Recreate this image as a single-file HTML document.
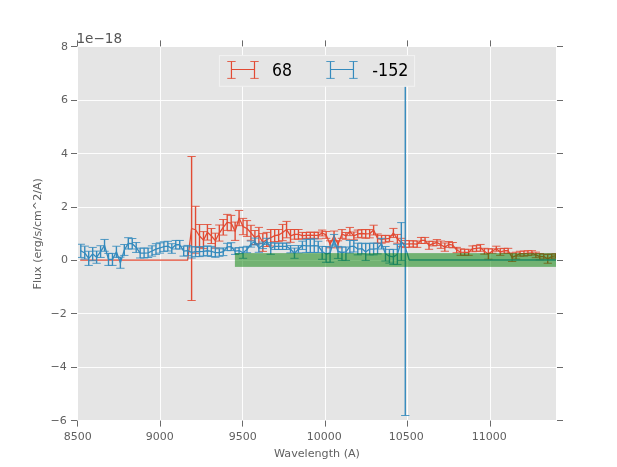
<!DOCTYPE html>
<html lang="en">
<head>
<meta charset="utf-8">
<title>Flux vs Wavelength</title>
<style>
html,body{margin:0;padding:0;background:#ffffff;}
body{width:617px;height:467px;overflow:hidden;}
svg{display:block;}
</style>
</head>
<body>
<svg width="617" height="467" viewBox="0 0 617 467">
<defs><clipPath id="ax"><rect x="78.00" y="47.00" width="478.00" height="373.00"/></clipPath></defs>
<rect x="0" y="0" width="617" height="467" fill="#ffffff"/>
<rect x="78.00" y="47.00" width="478.00" height="373.00" fill="#E5E5E5"/>
<path fill="none" stroke="#ffffff" stroke-opacity="0.92" stroke-width="1" d="M160.50 47.00V420.00M242.50 47.00V420.00M325.50 47.00V420.00M407.50 47.00V420.00M490.50 47.00V420.00M78.00 100.50H556.00M78.00 153.50H556.00M78.00 207.50H556.00M78.00 260.50H556.00M78.00 313.50H556.00M78.00 367.50H556.00"/>
<path fill="none" stroke="#555555" stroke-opacity="0.88" stroke-width="1" d="M77.50 420.60v6.00M77.50 46.40v-6.00M160.50 420.60v6.00M160.50 46.40v-6.00M242.50 420.60v6.00M242.50 46.40v-6.00M325.50 420.60v6.00M325.50 46.40v-6.00M407.50 420.60v6.00M407.50 46.40v-6.00M490.50 420.60v6.00M490.50 46.40v-6.00M77.00 46.50h-6.00M557.00 46.50h6.00M77.00 100.50h-6.00M557.00 100.50h6.00M77.00 153.50h-6.00M557.00 153.50h6.00M77.00 207.50h-6.00M557.00 207.50h6.00M77.00 260.50h-6.00M557.00 260.50h6.00M77.00 313.50h-6.00M557.00 313.50h6.00M77.00 367.50h-6.00M557.00 367.50h6.00M77.00 420.50h-6.00M557.00 420.50h6.00"/>
<g font-family='"DejaVu Sans", "Liberation Sans", sans-serif' font-size="11.00" fill="#555555" fill-opacity="0.94">
<text x="77.70" y="440.00" text-anchor="middle">8500</text>
<text x="159.70" y="440.00" text-anchor="middle">9000</text>
<text x="242.70" y="440.00" text-anchor="middle">9500</text>
<text x="324.30" y="440.00" text-anchor="middle">10000</text>
<text x="406.30" y="440.00" text-anchor="middle">10500</text>
<text x="489.30" y="440.00" text-anchor="middle">11000</text>
<text x="68.10" y="50.00" text-anchor="end">8</text>
<text x="68.10" y="103.30" text-anchor="end">6</text>
<text x="68.10" y="157.00" text-anchor="end">4</text>
<text x="68.10" y="210.10" text-anchor="end">2</text>
<text x="68.10" y="263.10" text-anchor="end">0</text>
<text x="66.70" y="317.10" text-anchor="end">−2</text>
<text x="66.70" y="370.00" text-anchor="end">−4</text>
<text x="66.70" y="424.10" text-anchor="end">−6</text>
<text x="317.00" y="456.90" font-size="11.15" text-anchor="middle">Wavelength (A)</text>
<text transform="translate(40.90 233.80) rotate(-90)" font-size="11.1" text-anchor="middle">Flux (erg/s/cm^2/A)</text>
</g>
<text x="76.40" y="42.90" font-family='"DejaVu Sans", "Liberation Sans", sans-serif' font-size="13.6" fill="#555555">1e−18</text>
<g clip-path="url(#ax)">
<polyline fill="none" stroke="#E24A33" stroke-width="1.30" stroke-linejoin="round" stroke-linecap="square" points="80.80,260.20 84.76,260.20 88.71,260.20 92.67,260.20 96.63,260.20 100.58,260.20 104.54,260.20 108.50,260.20 112.46,260.20 116.41,260.20 120.37,260.20 124.33,260.20 128.28,260.20 132.24,260.20 136.20,260.20 140.16,260.20 144.11,260.20 148.07,260.20 152.03,260.20 155.98,260.20 159.94,260.20 163.90,260.20 167.85,260.20 171.81,260.20 175.77,260.20 179.72,260.20 183.68,260.20 187.64,260.20 191.60,228.50 195.55,229.75 199.51,236.00 203.47,240.10 207.42,232.30 211.38,236.00 215.34,240.70 219.30,233.05 223.25,227.30 227.21,222.40 231.17,223.10 235.12,231.25 239.08,218.07 243.04,226.55 246.99,228.50 250.95,232.80 254.91,237.50 258.87,235.50 262.82,242.50 266.78,239.45 270.74,237.75 274.69,235.60 278.65,235.00 282.61,232.57 286.56,229.60 290.52,235.90 294.48,234.35 298.44,234.35 302.39,235.60 306.35,235.42 310.31,235.18 314.26,235.42 318.22,235.42 322.18,232.99 326.13,234.94 330.09,244.30 334.05,235.91 338.00,244.30 341.96,233.96 345.92,235.91 349.88,231.53 353.83,235.91 357.79,233.96 361.75,233.48 365.70,233.96 369.66,233.72 373.62,230.07 377.57,238.58 381.53,239.31 385.49,238.83 389.45,238.44 393.40,232.99 397.36,238.83 401.32,242.47 405.27,244.03 409.23,243.93 413.19,243.93 417.14,244.21 421.10,240.46 425.06,240.46 429.02,245.32 432.97,243.62 436.93,242.50 440.89,244.69 444.84,247.12 448.80,244.45 452.76,245.18 456.71,250.04 460.67,252.08 464.63,252.33 468.59,252.33 472.54,248.83 476.50,248.34 480.46,247.85 484.41,251.26 488.37,254.03 492.33,251.01 496.28,248.73 500.24,251.99 504.20,250.77 508.16,250.77 512.11,257.33 516.07,255.63 520.03,253.69 523.98,253.59 527.94,253.12 531.90,252.87 535.86,254.91 539.81,256.68 543.77,256.53 547.73,258.86 551.68,256.43 555.64,255.85 559.60,255.85"/>
<path fill="none" stroke="#E24A33" stroke-width="1.38" d="M191.60 156.50V300.50M195.55 206.30V253.20M199.51 224.50V247.50M203.47 231.60V248.60M207.42 224.50V240.10M211.38 228.50V243.50M215.34 233.20V248.20M219.30 225.00V241.10M223.25 219.50V235.10M227.21 214.40V230.40M231.17 215.40V230.80M235.12 222.10V240.40M239.08 210.45V225.70M243.04 218.40V234.70M246.99 220.60V236.40M250.95 225.30V240.30M254.91 230.50V244.50M258.87 227.40V243.60M262.82 233.60V251.40M266.78 232.40V246.50M270.74 229.50V246.00M274.69 229.50V241.70M278.65 229.50V241.70M282.61 224.45V240.70M286.56 221.40V237.80M290.52 229.50V242.30M294.48 229.50V239.20M298.44 229.50V239.20M302.39 232.40V238.80M306.35 232.50V238.34M310.31 232.02V238.34M314.26 232.50V238.34M318.22 232.02V238.83M322.18 230.07V235.91M326.13 231.53V238.34M330.09 240.80V247.80M334.05 231.05V240.77M338.00 240.80V247.80M341.96 229.59V238.34M345.92 232.50V239.31M349.88 227.45V235.62M353.83 232.02V239.80M357.79 230.07V237.85M361.75 229.59V237.37M365.70 229.59V238.34M369.66 229.59V237.85M373.62 225.21V234.94M377.57 233.96V243.20M381.53 235.42V243.20M385.49 235.42V242.23M389.45 235.42V241.45M393.40 228.42V237.56M397.36 234.45V243.20M401.32 238.34V246.61M405.27 240.48V247.58M409.23 240.77V247.09M413.19 240.77V247.09M417.14 241.05V247.37M421.10 237.45V243.48M425.06 237.45V243.48M429.02 241.34V249.31M432.97 241.34V245.91M436.93 239.59V245.42M440.89 241.05V248.34M444.84 242.99V251.26M448.80 241.53V247.37M452.76 242.50V247.85M456.71 247.37V252.72M460.67 248.83V255.34M464.63 249.31V255.34M468.59 249.31V255.34M472.54 245.91V251.74M476.50 245.42V251.26M480.46 244.45V251.26M484.41 248.34V254.17M488.37 248.83V259.23M492.33 248.83V253.20M496.28 246.20V251.26M500.24 248.63V255.34M504.20 248.34V253.20M508.16 248.34V253.20M512.11 253.20V261.47M516.07 252.23V259.04M520.03 251.26V256.12M523.98 251.06V256.12M527.94 250.68V255.55M531.90 250.68V255.06M535.86 252.14V257.69M539.81 253.52V259.84M543.77 254.20V258.86M547.73 254.49V263.24M551.68 254.00V258.86M555.64 253.81V257.89M559.60 253.81V257.89"/>
<path fill="none" stroke="#E24A33" stroke-width="0.85" d="M187.45 156.50h8.30M187.45 300.50h8.30M191.40 206.30h8.30M191.40 253.20h8.30M195.36 224.50h8.30M195.36 247.50h8.30M199.32 231.60h8.30M199.32 248.60h8.30M203.27 224.50h8.30M203.27 240.10h8.30M207.23 228.50h8.30M207.23 243.50h8.30M211.19 233.20h8.30M211.19 248.20h8.30M215.15 225.00h8.30M215.15 241.10h8.30M219.10 219.50h8.30M219.10 235.10h8.30M223.06 214.40h8.30M223.06 230.40h8.30M227.02 215.40h8.30M227.02 230.80h8.30M230.97 222.10h8.30M230.97 240.40h8.30M234.93 210.45h8.30M234.93 225.70h8.30M238.89 218.40h8.30M238.89 234.70h8.30M242.84 220.60h8.30M242.84 236.40h8.30M246.80 225.30h8.30M246.80 240.30h8.30M250.76 230.50h8.30M250.76 244.50h8.30M254.72 227.40h8.30M254.72 243.60h8.30M258.67 233.60h8.30M258.67 251.40h8.30M262.63 232.40h8.30M262.63 246.50h8.30M266.59 229.50h8.30M266.59 246.00h8.30M270.54 229.50h8.30M270.54 241.70h8.30M274.50 229.50h8.30M274.50 241.70h8.30M278.46 224.45h8.30M278.46 240.70h8.30M282.41 221.40h8.30M282.41 237.80h8.30M286.37 229.50h8.30M286.37 242.30h8.30M290.33 229.50h8.30M290.33 239.20h8.30M294.29 229.50h8.30M294.29 239.20h8.30M298.24 232.40h8.30M298.24 238.80h8.30M302.20 232.50h8.30M302.20 238.34h8.30M306.16 232.02h8.30M306.16 238.34h8.30M310.11 232.50h8.30M310.11 238.34h8.30M314.07 232.02h8.30M314.07 238.83h8.30M318.03 230.07h8.30M318.03 235.91h8.30M321.98 231.53h8.30M321.98 238.34h8.30M325.94 240.80h8.30M325.94 247.80h8.30M329.90 231.05h8.30M329.90 240.77h8.30M333.86 240.80h8.30M333.86 247.80h8.30M337.81 229.59h8.30M337.81 238.34h8.30M341.77 232.50h8.30M341.77 239.31h8.30M345.73 227.45h8.30M345.73 235.62h8.30M349.68 232.02h8.30M349.68 239.80h8.30M353.64 230.07h8.30M353.64 237.85h8.30M357.60 229.59h8.30M357.60 237.37h8.30M361.55 229.59h8.30M361.55 238.34h8.30M365.51 229.59h8.30M365.51 237.85h8.30M369.47 225.21h8.30M369.47 234.94h8.30M373.43 233.96h8.30M373.43 243.20h8.30M377.38 235.42h8.30M377.38 243.20h8.30M381.34 235.42h8.30M381.34 242.23h8.30M385.30 235.42h8.30M385.30 241.45h8.30M389.25 228.42h8.30M389.25 237.56h8.30M393.21 234.45h8.30M393.21 243.20h8.30M397.17 238.34h8.30M397.17 246.61h8.30M401.12 240.48h8.30M401.12 247.58h8.30M405.08 240.77h8.30M405.08 247.09h8.30M409.04 240.77h8.30M409.04 247.09h8.30M413.00 241.05h8.30M413.00 247.37h8.30M416.95 237.45h8.30M416.95 243.48h8.30M420.91 237.45h8.30M420.91 243.48h8.30M424.87 241.34h8.30M424.87 249.31h8.30M428.82 241.34h8.30M428.82 245.91h8.30M432.78 239.59h8.30M432.78 245.42h8.30M436.74 241.05h8.30M436.74 248.34h8.30M440.69 242.99h8.30M440.69 251.26h8.30M444.65 241.53h8.30M444.65 247.37h8.30M448.61 242.50h8.30M448.61 247.85h8.30M452.56 247.37h8.30M452.56 252.72h8.30M456.52 248.83h8.30M456.52 255.34h8.30M460.48 249.31h8.30M460.48 255.34h8.30M464.44 249.31h8.30M464.44 255.34h8.30M468.39 245.91h8.30M468.39 251.74h8.30M472.35 245.42h8.30M472.35 251.26h8.30M476.31 244.45h8.30M476.31 251.26h8.30M480.26 248.34h8.30M480.26 254.17h8.30M484.22 248.83h8.30M484.22 259.23h8.30M488.18 248.83h8.30M488.18 253.20h8.30M492.13 246.20h8.30M492.13 251.26h8.30M496.09 248.63h8.30M496.09 255.34h8.30M500.05 248.34h8.30M500.05 253.20h8.30M504.01 248.34h8.30M504.01 253.20h8.30M507.96 253.20h8.30M507.96 261.47h8.30M511.92 252.23h8.30M511.92 259.04h8.30M515.88 251.26h8.30M515.88 256.12h8.30M519.83 251.06h8.30M519.83 256.12h8.30M523.79 250.68h8.30M523.79 255.55h8.30M527.75 250.68h8.30M527.75 255.06h8.30M531.71 252.14h8.30M531.71 257.69h8.30M535.66 253.52h8.30M535.66 259.84h8.30M539.62 254.20h8.30M539.62 258.86h8.30M543.58 254.49h8.30M543.58 263.24h8.30M547.53 254.00h8.30M547.53 258.86h8.30M551.49 253.81h8.30M551.49 257.89h8.30M555.45 253.81h8.30M555.45 257.89h8.30"/>
<polyline fill="none" stroke="#348ABD" stroke-width="1.30" stroke-linejoin="round" stroke-linecap="square" points="80.80,250.85 84.76,253.00 88.71,258.34 92.67,254.06 96.63,257.18 100.58,251.57 104.54,245.36 108.50,259.41 112.46,259.41 116.41,251.81 120.37,262.69 124.33,249.97 128.28,243.33 132.24,243.76 136.20,247.48 140.16,253.05 144.11,253.05 148.07,252.80 152.03,250.99 155.98,249.06 159.94,247.99 163.90,246.62 167.85,246.15 171.81,248.50 175.77,244.73 179.72,244.73 183.68,251.20 187.64,250.56 191.60,252.40 195.55,251.70 199.51,251.70 203.47,251.30 207.42,250.75 211.38,251.45 215.34,252.55 219.30,252.55 223.25,251.75 227.21,246.95 231.17,246.65 235.12,251.20 239.08,250.60 243.04,252.70 246.99,249.50 250.95,244.05 254.91,241.55 258.87,248.00 262.82,245.40 266.78,241.30 270.74,248.47 274.69,246.28 278.65,246.28 282.61,246.28 286.56,246.28 290.52,249.20 294.48,253.20 298.44,249.20 302.39,245.31 306.35,245.88 310.31,245.88 314.26,245.63 318.22,245.92 322.18,251.50 326.13,254.00 330.09,253.00 334.05,239.80 338.00,251.50 341.96,252.50 345.92,251.80 349.88,246.70 353.83,246.22 357.79,249.04 361.75,248.55 365.70,252.00 369.66,249.04 373.62,249.04 377.57,248.55 381.53,243.69 385.49,253.70 389.45,256.20 393.40,256.90 397.36,254.30 401.32,241.50 405.27,247.10 409.23,260.00 413.19,260.00 417.14,260.00 421.10,260.00 425.06,260.00 429.02,260.00 432.97,260.00 436.93,260.00 440.89,260.00 444.84,260.00 448.80,260.00 452.76,260.00 456.71,260.00 460.67,260.00 464.63,260.00 468.59,260.00 472.54,260.00 476.50,260.00 480.46,260.00 484.41,260.00 488.37,260.00 492.33,260.00 496.28,260.00 500.24,260.00 504.20,260.00 508.16,260.00 512.11,260.00 516.07,260.00 520.03,260.00 523.98,260.00 527.94,260.00 531.90,260.00 535.86,260.00 539.81,260.00 543.77,260.00 547.73,260.00 551.68,260.00 555.64,260.00 559.60,260.00 563.55,260.00"/>
<path fill="none" stroke="#348ABD" stroke-width="1.38" d="M80.80 244.25V257.44M84.76 246.13V259.00M88.71 251.27V265.41M92.67 247.42V260.70M96.63 251.10V263.27M100.58 245.71V257.44M104.54 239.45V251.27M108.50 253.42V265.41M112.46 253.42V265.41M116.41 246.24V257.38M120.37 257.12V268.25M124.33 244.53V255.41M128.28 237.68V248.98M132.24 238.53V248.98M136.20 242.56V252.41M140.16 248.13V257.98M144.11 248.13V257.98M148.07 248.10V257.50M152.03 245.85V256.12M155.98 243.70V254.41M159.94 242.85V253.13M163.90 241.82V251.41M167.85 241.31V250.99M171.81 243.70V253.30M175.77 240.45V249.01M179.72 240.45V249.01M183.68 246.27V256.12M187.64 245.42V255.70M191.60 246.80V258.00M195.55 246.80V256.60M199.51 246.80V256.60M203.47 246.60V256.00M207.42 245.90V255.60M211.38 246.40V256.50M215.34 247.80V257.30M219.30 248.80V256.30M223.25 247.90V255.60M227.21 243.30V250.60M231.17 242.70V250.60M235.12 248.00V254.40M239.08 247.60V253.60M243.04 247.10V258.30M246.99 246.30V252.70M250.95 241.00V247.10M254.91 238.10V245.00M258.87 243.70V252.30M262.82 242.10V248.60M266.78 238.30V244.40M270.74 242.63V254.30M274.69 243.12V249.44M278.65 243.12V249.44M282.61 243.12V249.44M286.56 243.12V249.44M290.52 245.55V252.84M294.48 248.10V258.30M298.44 245.55V252.84M302.39 241.17V249.44M306.35 239.31V252.44M310.31 239.31V252.44M314.26 238.83V252.44M318.22 241.26V252.44M322.18 246.40V259.30M326.13 246.50V262.30M330.09 247.00V262.30M334.05 234.45V245.15M338.00 246.40V258.40M341.96 247.00V260.40M345.92 247.00V260.40M349.88 240.48V252.93M353.83 240.48V251.95M357.79 243.20V254.87M361.75 243.20V253.90M365.70 243.60V260.40M369.66 243.20V254.87M373.62 243.20V254.87M377.57 243.20V253.90M381.53 238.34V249.04M385.49 246.50V261.00M389.45 249.40V263.10M393.40 249.40V264.40M397.36 244.30V264.40M401.32 222.60V260.40M405.27 60.00V415.50"/>
<path fill="none" stroke="#348ABD" stroke-width="0.85" d="M76.65 244.25h8.30M76.65 257.44h8.30M80.61 246.13h8.30M80.61 259.00h8.30M84.56 251.27h8.30M84.56 265.41h8.30M88.52 247.42h8.30M88.52 260.70h8.30M92.48 251.10h8.30M92.48 263.27h8.30M96.43 245.71h8.30M96.43 257.44h8.30M100.39 239.45h8.30M100.39 251.27h8.30M104.35 253.42h8.30M104.35 265.41h8.30M108.31 253.42h8.30M108.31 265.41h8.30M112.26 246.24h8.30M112.26 257.38h8.30M116.22 257.12h8.30M116.22 268.25h8.30M120.18 244.53h8.30M120.18 255.41h8.30M124.13 237.68h8.30M124.13 248.98h8.30M128.09 238.53h8.30M128.09 248.98h8.30M132.05 242.56h8.30M132.05 252.41h8.30M136.00 248.13h8.30M136.00 257.98h8.30M139.96 248.13h8.30M139.96 257.98h8.30M143.92 248.10h8.30M143.92 257.50h8.30M147.88 245.85h8.30M147.88 256.12h8.30M151.83 243.70h8.30M151.83 254.41h8.30M155.79 242.85h8.30M155.79 253.13h8.30M159.75 241.82h8.30M159.75 251.41h8.30M163.70 241.31h8.30M163.70 250.99h8.30M167.66 243.70h8.30M167.66 253.30h8.30M171.62 240.45h8.30M171.62 249.01h8.30M175.57 240.45h8.30M175.57 249.01h8.30M179.53 246.27h8.30M179.53 256.12h8.30M183.49 245.42h8.30M183.49 255.70h8.30M187.45 246.80h8.30M187.45 258.00h8.30M191.40 246.80h8.30M191.40 256.60h8.30M195.36 246.80h8.30M195.36 256.60h8.30M199.32 246.60h8.30M199.32 256.00h8.30M203.27 245.90h8.30M203.27 255.60h8.30M207.23 246.40h8.30M207.23 256.50h8.30M211.19 247.80h8.30M211.19 257.30h8.30M215.15 248.80h8.30M215.15 256.30h8.30M219.10 247.90h8.30M219.10 255.60h8.30M223.06 243.30h8.30M223.06 250.60h8.30M227.02 242.70h8.30M227.02 250.60h8.30M230.97 248.00h8.30M230.97 254.40h8.30M234.93 247.60h8.30M234.93 253.60h8.30M238.89 247.10h8.30M238.89 258.30h8.30M242.84 246.30h8.30M242.84 252.70h8.30M246.80 241.00h8.30M246.80 247.10h8.30M250.76 238.10h8.30M250.76 245.00h8.30M254.72 243.70h8.30M254.72 252.30h8.30M258.67 242.10h8.30M258.67 248.60h8.30M262.63 238.30h8.30M262.63 244.40h8.30M266.59 242.63h8.30M266.59 254.30h8.30M270.54 243.12h8.30M270.54 249.44h8.30M274.50 243.12h8.30M274.50 249.44h8.30M278.46 243.12h8.30M278.46 249.44h8.30M282.41 243.12h8.30M282.41 249.44h8.30M286.37 245.55h8.30M286.37 252.84h8.30M290.33 248.10h8.30M290.33 258.30h8.30M294.29 245.55h8.30M294.29 252.84h8.30M298.24 241.17h8.30M298.24 249.44h8.30M302.20 239.31h8.30M302.20 252.44h8.30M306.16 239.31h8.30M306.16 252.44h8.30M310.11 238.83h8.30M310.11 252.44h8.30M314.07 241.26h8.30M314.07 252.44h8.30M318.03 246.40h8.30M318.03 259.30h8.30M321.98 246.50h8.30M321.98 262.30h8.30M325.94 247.00h8.30M325.94 262.30h8.30M329.90 234.45h8.30M329.90 245.15h8.30M333.86 246.40h8.30M333.86 258.40h8.30M337.81 247.00h8.30M337.81 260.40h8.30M341.77 247.00h8.30M341.77 260.40h8.30M345.73 240.48h8.30M345.73 252.93h8.30M349.68 240.48h8.30M349.68 251.95h8.30M353.64 243.20h8.30M353.64 254.87h8.30M357.60 243.20h8.30M357.60 253.90h8.30M361.55 243.60h8.30M361.55 260.40h8.30M365.51 243.20h8.30M365.51 254.87h8.30M369.47 243.20h8.30M369.47 254.87h8.30M373.43 243.20h8.30M373.43 253.90h8.30M377.38 238.34h8.30M377.38 249.04h8.30M381.34 246.50h8.30M381.34 261.00h8.30M385.30 249.40h8.30M385.30 263.10h8.30M389.25 249.40h8.30M389.25 264.40h8.30M393.21 244.30h8.30M393.21 264.40h8.30M397.17 222.60h8.30M397.17 260.40h8.30M401.12 60.00h8.30M401.12 415.50h8.30"/>
<rect x="234.90" y="253.10" width="326.10" height="13.80" fill="#008000" fill-opacity="0.5"/>
</g>
<rect x="219.40" y="55.60" width="195.20" height="30.70" fill="#E5E5E5" stroke="#f2f2f2" stroke-width="1"/>
<path fill="none" stroke="#E24A33" stroke-width="1.20" d="M231.45 69.50H254.50M231.45 61.50V78.40M254.50 61.50V78.40"/><path fill="none" stroke="#E24A33" stroke-width="0.85" d="M227.25 61.50h8.40M227.25 78.40h8.40M250.30 61.50h8.40M250.30 78.40h8.40"/>
<path fill="none" stroke="#348ABD" stroke-width="1.20" d="M330.50 69.50H353.45M330.50 61.50V78.40M353.45 61.50V78.40"/><path fill="none" stroke="#348ABD" stroke-width="0.85" d="M326.30 61.50h8.40M326.30 78.40h8.40M349.25 61.50h8.40M349.25 78.40h8.40"/>
<g font-family='"DejaVu Sans", "Liberation Sans", sans-serif' font-size="17.2" fill="#000000">
<text transform="translate(272.08 76.3) scale(0.915 1)">68</text>
<text transform="translate(372.28 76.3) scale(0.929 1)">-152</text>
</g>
</svg>
</body>
</html>
